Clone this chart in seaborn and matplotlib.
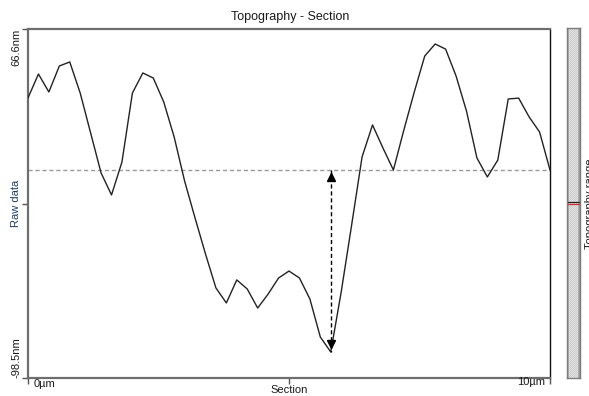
import matplotlib
matplotlib.use("Agg")
import matplotlib.pyplot as plt
import matplotlib.transforms as mtransforms
import numpy as np
import seaborn as sns
import pandas as pd

# Section profile: position along the cut (µm) and raw height (nm)
position_um = [0.0, 0.2, 0.4, 0.6, 0.8, 1.0, 1.2, 1.4, 1.6, 1.8,
               2.0, 2.2, 2.4, 2.6, 2.8, 3.0, 3.2, 3.4, 3.6, 3.8,
               4.0, 4.2, 4.4, 4.6, 4.8, 5.0, 5.2, 5.4, 5.6, 5.8,
               6.0, 6.2, 6.4, 6.6, 6.8, 7.0, 7.2, 7.4, 7.6, 7.8,
               8.0, 8.2, 8.4, 8.6, 8.8, 9.0, 9.2, 9.4, 9.6, 9.8, 10.0]
height_nm = [34.0, 45.3, 36.8, 49.1, 51.0, 36.3, 17.4, -1.5, -11.9, 3.7,
             36.3, 45.8, 43.4, 32.1, 15.5, -5.3, -22.8, -39.8, -55.9, -63.0,
             -52.1, -56.4, -65.4, -58.8, -51.2, -47.9, -51.2, -61.1, -79.1, -86.2,
             -57.8, -26.1, 6.1, 21.2, 10.3, -0.1, 18.8, 36.8, 53.8, 59.5,
             57.1, 44.4, 27.8, 5.6, -3.4, 4.6, 33.5, 33.9, 25.0, 17.9, -0.1]

z_min, z_max = -98.5, 66.6          # displayed height range (nm)
x_min, x_max = 0.0, 10.0            # section length (µm)
reference_level = 0.0               # mean line
marker_pos = 5.8                    # depth marker position (µm)
marker_depth = -86.2                # depth marker value (nm)

df = pd.DataFrame({"position": position_um, "height": height_nm})

sns.set_theme(style="white")
plt.rcParams["font.family"] = ["Liberation Sans", "DejaVu Sans"]

fig = plt.figure(figsize=(5.89, 3.96), dpi=100)
ax = fig.add_axes([28 / 589, 18 / 396, 522 / 589, 349 / 396])

# mean reference line
ax.axhline(reference_level, color="#9a9a9a", lw=1, ls=(0, (3, 2)), zorder=1)

# profile
sns.lineplot(data=df, x="position", y="height", ax=ax, color="#222222",
             lw=1.0, zorder=3)

# depth marker: dashed line with arrowheads at both ends
ax.plot([marker_pos, marker_pos], [reference_level, marker_depth],
        color="black", lw=1, ls=(0, (3, 2)), zorder=4)
ax.plot([marker_pos], [reference_level - 3.2], marker="^", color="black",
        markersize=5.5, zorder=5)
ax.plot([marker_pos], [marker_depth + 4.0], marker="v", color="black",
        markersize=5.5, zorder=5)

ax.set_xlim(x_min, x_max)
ax.set_ylim(z_min, z_max)
ax.set_xlabel("")
ax.set_ylabel("")

for side in ("left", "bottom", "top"):
    ax.spines[side].set_color("#6e6e6e")
    ax.spines[side].set_linewidth(1.6)
ax.spines["right"].set_color("#111111")
ax.spines["right"].set_linewidth(1.0)

ax.set_xticks([x_min, (x_min + x_max) / 2, x_max])
ax.set_yticks([z_min, (z_min + z_max) / 2, z_max])
ax.set_xticklabels([])
ax.set_yticklabels([])
ax.tick_params(axis="both", direction="out", length=4, width=1,
               color="#555555", bottom=True, left=True)

text_color = "#1a1a1a"
fs = 8

# y-axis annotations, rotated
ty = mtransforms.blended_transform_factory(fig.transFigure, ax.transData)
ax.text(16 / 589, z_max, "66.6nm", transform=ty, rotation=90,
        ha="center", va="top", fontsize=fs, color=text_color)
ax.text(16 / 589, z_min, "-98.5nm", transform=ty, rotation=90,
        ha="center", va="bottom", fontsize=fs, color=text_color)
ax.text(16 / 589, (z_min + z_max) / 2, "Raw data", transform=ty, rotation=90,
        ha="center", va="center", fontsize=fs, color="#1c3e66")

# x-axis annotations
tx = mtransforms.blended_transform_factory(ax.transData, fig.transFigure)
ax.text(x_min + 0.1, 1 - 384 / 396, "0µm", transform=tx, ha="left",
        va="center", fontsize=fs, color=text_color)
ax.text(x_max - 0.1, 1 - 382 / 396, "10µm", transform=tx, ha="right",
        va="center", fontsize=fs, color=text_color)
ax.text((x_min + x_max) / 2, 1 - 390 / 396, "Section", transform=tx,
        ha="center", va="center", fontsize=fs, color=text_color)

fig.text(290 / 589, 1 - 17 / 396, "Topography - Section", ha="center",
         va="center", fontsize=9, color=text_color)

# range bar on the right, drawn as a fine dithered grey strip
cax = fig.add_axes([567 / 589, 18 / 396, 13 / 589, 350 / 396])
rows, cols = 350, 13
checker = (np.add.outer(np.arange(rows), np.arange(cols)) % 2).astype(float)
shade = 0.80 + 0.08 * checker
shade[:, 0] = 0.62
shade[:, 1] = 0.70
shade[:, -1] = 0.60
shade[:, -2] = 0.68
cax.imshow(shade, cmap="gray", vmin=0, vmax=1, aspect="auto",
           interpolation="nearest", extent=(0, 1, z_min, z_max))
cax.set_xlim(0, 1)
cax.set_ylim(z_min, z_max)
cax.set_xticks([])
cax.set_yticks([])
for s in cax.spines.values():
    s.set_color("#7c7c7c")
    s.set_linewidth(1.0)
mid = (z_min + z_max) / 2
cax.axhline(mid + 0.6, color="#222222", lw=0.9)
cax.axhline(mid - 0.4, color="#d03030", lw=0.9)

fig.text(590 / 589, 1 - 204 / 396, "Topography range",
         rotation=90, ha="center", va="center", fontsize=fs, color=text_color)

fig.savefig("out.png", dpi=100)
